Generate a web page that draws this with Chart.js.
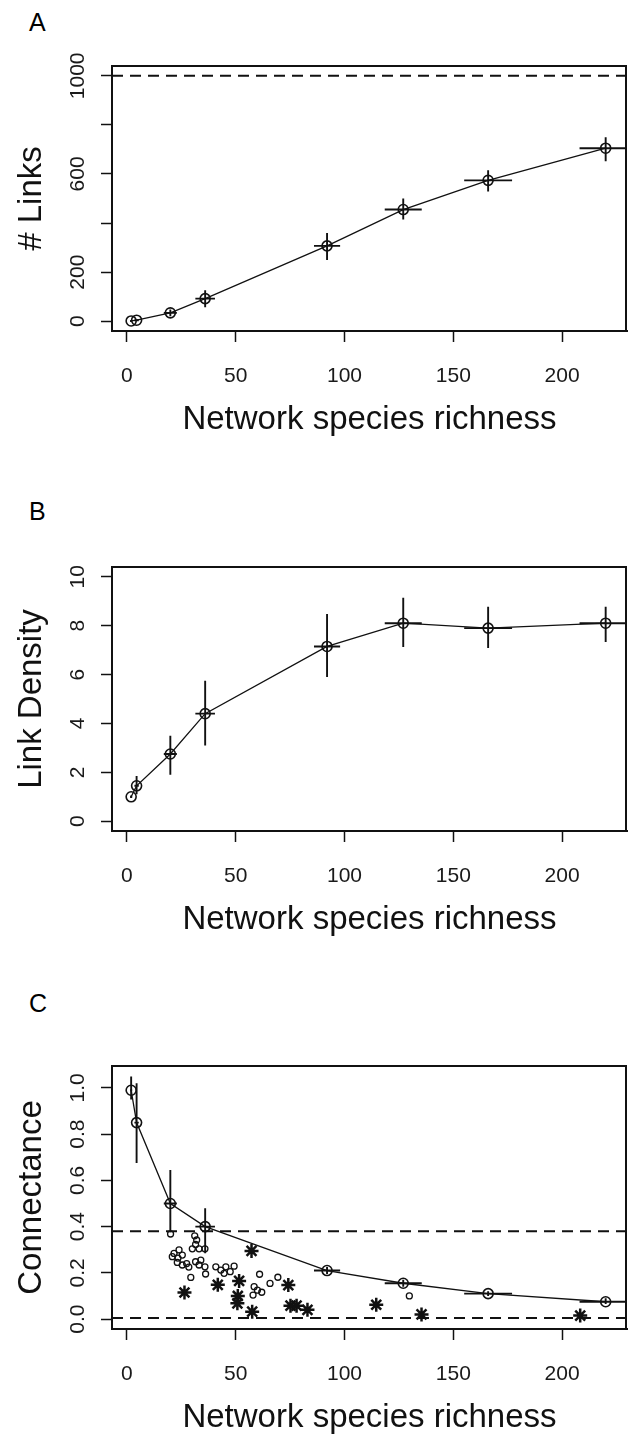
<!DOCTYPE html>
<html><head><meta charset="utf-8">
<script src="https://cdn.jsdelivr.net/npm/chart.js@4/dist/chart.umd.min.js"></script>
<style>
html,body{margin:0;padding:0;background:#fff;overflow:hidden;}
body{width:628px;height:1435px;position:relative;font-family:'Liberation Sans',Arial,sans-serif;}
canvas{position:absolute;left:0;display:block;}
.lab{position:absolute;left:29px;font-size:25px;line-height:25px;color:#000;}
</style></head><body>
<div class="lab" style="top:10px">A</div>
<div class="lab" style="top:499px">B</div>
<div class="lab" style="top:991px">C</div>
<canvas id="cA" width="628" height="500" style="top:0;width:628px;height:500px"></canvas>
<canvas id="cB" width="628" height="500" style="top:500px;width:628px;height:500px"></canvas>
<canvas id="cC" width="628" height="435" style="top:1000px;width:628px;height:435px"></canvas>
<script>
// ---- data ----
const xTicks = [0, 50, 100, 150, 200];
const richness = [2, 4.5, 20, 36, 92, 127, 166, 220];
const richnessErr = [0.5, 1, 3, 4.5, 6, 8.5, 11, 12];

const linksMean = [1, 4, 34, 92, 307, 455, 574, 705];
const linksLo = [0, 2, 20, 57, 249, 414, 529, 652];
const linksHi = [2, 6, 48, 126, 359, 500, 615, 750];
const linkTicks = [0, 200, 400, 600, 800, 1000];
const linkTickLabels = ['0', '200', '', '600', '', '1000'];
const linkRef = [1000];

const densityMean = [1.0, 1.45, 2.75, 4.4, 7.15, 8.1, 7.9, 8.1];
const densityLo = [0.95, 1.1, 1.9, 3.1, 5.9, 7.13, 7.09, 7.33];
const densityHi = [1.05, 1.85, 3.5, 5.75, 8.48, 9.14, 8.77, 8.77];
const densityTicks = [0, 2, 4, 6, 8, 10];
const densityTickLabels = ['0', '2', '4', '6', '8', '10'];

const connMean = [0.99, 0.85, 0.50, 0.40, 0.21, 0.155, 0.11, 0.075];
const connLo = [0.95, 0.675, 0.376, 0.285, 0.195, 0.14, 0.10, 0.065];
const connHi = [1.05, 1.02, 0.645, 0.48, 0.225, 0.17, 0.12, 0.09];
const connTicks = [0, 0.2, 0.4, 0.6, 0.8, 1.0];
const connTickLabels = ['0.0', '0.2', '0.4', '0.6', '0.8', '1.0'];
const connRef = [0.38, 0.005];

const webCircX = [20.1, 31.2, 32.1, 31.6, 30.1, 33.2, 35.9, 21.7, 24, 20.9, 23.5, 25.5, 23.2, 25.5, 27.5, 28.5, 31.6, 34, 33.2, 35.9, 36.2, 40.9, 43.2, 45.5, 44.7, 49.3, 47.5, 29.4, 61, 69.4, 65.8, 62, 58.5, 58, 60, 129.8];
const webCircY = [0.368, 0.36, 0.342, 0.323, 0.304, 0.304, 0.304, 0.284, 0.299, 0.27, 0.264, 0.277, 0.245, 0.234, 0.24, 0.225, 0.248, 0.255, 0.234, 0.226, 0.195, 0.226, 0.212, 0.226, 0.198, 0.229, 0.205, 0.18, 0.194, 0.181, 0.154, 0.116, 0.14, 0.104, 0.125, 0.1];
const webStarX = [26.5, 41.8, 51.6, 51, 50.8, 57.3, 57.6, 74.2, 75.2, 78, 83, 114.6, 135.4, 208.3];
const webStarY = [0.115, 0.148, 0.165, 0.1, 0.068, 0.295, 0.032, 0.147, 0.058, 0.058, 0.04, 0.062, 0.02, 0.015];

// ---- plugin for R-style decorations ----
const FONT = "'Liberation Sans', Arial, sans-serif";
const rPlot = {
  id: 'rPlot',
  beforeDatasetsDraw(chart, args, o) {
    const ctx = chart.ctx, ca = chart.chartArea, xs = chart.scales.x, ys = chart.scales.y;
    ctx.save();
    ctx.beginPath(); ctx.rect(ca.left, ca.top, ca.right - ca.left, ca.bottom - ca.top); ctx.clip();
    ctx.strokeStyle = '#111'; ctx.lineWidth = 2; ctx.setLineDash([11, 7]);
    (o.refs || []).forEach(v => {
      const py = ys.getPixelForValue(v);
      ctx.beginPath(); ctx.moveTo(ca.left, py); ctx.lineTo(ca.right, py); ctx.stroke();
    });
    ctx.setLineDash([]);
    ctx.lineWidth = 1.9;
    const e = o.err;
    e.x.forEach((xv, i) => {
      const px = xs.getPixelForValue(xv), py = ys.getPixelForValue(e.y[i]);
      ctx.beginPath();
      ctx.moveTo(px, ys.getPixelForValue(e.lo[i])); ctx.lineTo(px, ys.getPixelForValue(e.hi[i]));
      ctx.moveTo(xs.getPixelForValue(xv - e.xe[i]), py); ctx.lineTo(xs.getPixelForValue(xv + e.xe[i]), py);
      ctx.stroke();
    });
    ctx.restore();
  },
  afterDraw(chart, args, o) {
    const ctx = chart.ctx, ca = chart.chartArea, ys = chart.scales.y;
    ctx.save();
    ctx.strokeStyle = '#111'; ctx.lineWidth = 2;
    ctx.strokeRect(ca.left, ca.top, ca.right - ca.left - 1, ca.bottom - ca.top);
    ctx.fillStyle = '#1a1a1a';
    ctx.font = '21px ' + FONT;
    ctx.textAlign = 'center'; ctx.textBaseline = 'middle';
    o.yTicks.forEach((v, i) => {
      if (!o.yLabels[i]) return;
      ctx.save();
      ctx.translate(78, ys.getPixelForValue(v));
      ctx.rotate(-Math.PI / 2);
      ctx.fillText(o.yLabels[i], 0, 0);
      ctx.restore();
    });
    ctx.restore();
  }
};

function makeChart(id, cfg) {
  const datasets = [{
    type: 'line',
    data: richness.map((x, i) => ({x: x, y: cfg.mean[i]})),
    borderColor: '#111', borderWidth: 1.3,
    pointStyle: 'circle', pointRadius: 5, pointBorderWidth: 1.6,
    pointBackgroundColor: 'rgba(0,0,0,0)', pointBorderColor: '#111',
    tension: 0, order: 1
  }].concat(cfg.extra || []);
  return new Chart(document.getElementById(id), {
    type: 'scatter',
    data: {datasets: datasets},
    options: {
      responsive: false, maintainAspectRatio: false, animation: false, devicePixelRatio: 1,
      layout: {autoPadding: false, padding: {top: cfg.padTop, bottom: cfg.padBottom, left: 0, right: 1}},
      plugins: {
        legend: {display: false}, tooltip: {enabled: false},
        rPlot: {refs: cfg.refs, yTicks: cfg.yTicks, yLabels: cfg.yLabels,
          err: {x: richness, xe: richnessErr, y: cfg.mean, lo: cfg.lo, hi: cfg.hi}}
      },
      scales: {
        x: {
          type: 'linear', min: -6.8, max: 229.8,
          afterBuildTicks: s => { s.ticks = xTicks.map(v => ({value: v})); },
          afterFit: s => { s.height = 106; s.paddingLeft = 0; s.paddingRight = 0; },
          grid: {drawOnChartArea: false, drawTicks: true, tickLength: 11, tickWidth: 1.5, tickColor: '#111'},
          border: {display: true, color: '#111', width: 2},
          ticks: {color: '#1a1a1a', font: {family: FONT, size: 21}, padding: 22, maxRotation: 0, autoSkip: false},
          title: {display: true, text: 'Network species richness', color: '#111',
            font: {family: FONT, size: 33, lineHeight: 1.2}, padding: {top: 0, bottom: -3}}
        },
        y: {
          type: 'linear', min: cfg.yMin, max: cfg.yMax,
          afterBuildTicks: s => { s.ticks = cfg.yTicks.map(v => ({value: v})); },
          afterFit: s => { s.width = 112; s.paddingTop = 0; s.paddingBottom = 0; },
          grid: {drawOnChartArea: false, drawTicks: true, tickLength: 11, tickWidth: 1.5, tickColor: '#111'},
          border: {display: true, color: '#111', width: 2},
          ticks: {display: false},
          title: {display: true, text: cfg.yTitle, color: '#111',
            font: {family: FONT, size: 33, lineHeight: 1.2}, padding: {top: 12, bottom: 0}}
        }
      }
    },
    plugins: [rPlot]
  });
}

makeChart('cA', {mean: linksMean, lo: linksLo, hi: linksHi, yMin: -40, yMax: 1040,
  yTicks: linkTicks, yLabels: linkTickLabels, refs: linkRef, yTitle: '# Links', padTop: 66, padBottom: 63});
makeChart('cB', {mean: densityMean, lo: densityLo, hi: densityHi, yMin: -0.4, yMax: 10.4,
  yTicks: densityTicks, yLabels: densityTickLabels, refs: [], yTitle: 'Link Density', padTop: 67, padBottom: 63});
makeChart('cC', {mean: connMean, lo: connLo, hi: connHi, yMin: -0.043, yMax: 1.095,
  yTicks: connTicks, yLabels: connTickLabels, refs: connRef, yTitle: 'Connectance', padTop: 66, padBottom: 0,
  extra: [
    {data: webCircX.map((x, i) => ({x: x, y: webCircY[i]})), pointStyle: 'circle', pointRadius: 3,
      pointBorderWidth: 1.3, borderColor: '#111', backgroundColor: 'rgba(0,0,0,0)', order: 2},
    {data: webStarX.map((x, i) => ({x: x, y: webStarY[i]})), pointStyle: 'star', pointRadius: 7,
      pointBorderWidth: 2.5, borderColor: '#111', backgroundColor: 'rgba(0,0,0,0)', order: 2}
  ]});
</script>
</body></html>
